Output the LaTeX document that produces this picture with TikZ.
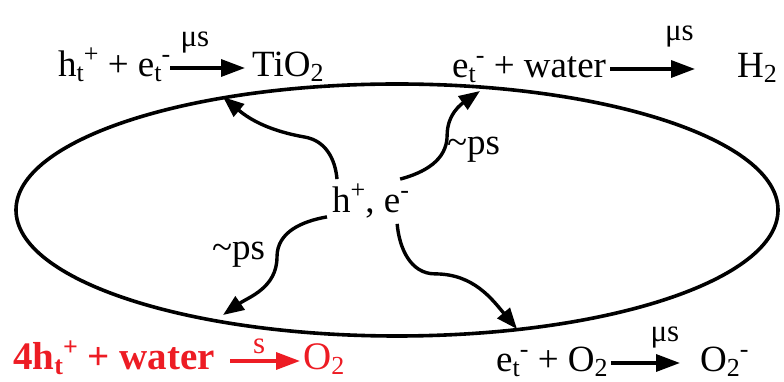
\documentclass[tikz,border=0pt]{standalone}
\usepackage{fontspec}
\setmainfont{Liberation Serif}
\usetikzlibrary{arrows.meta}

\definecolor{rxred}{RGB}{237,28,36}
\newcommand\bigsz{\fontsize{37}{40}\selectfont}
\newcommand\redsz{\fontsize{39}{42}\selectfont}
\newcommand\ratesz{\fontsize{31}{33}\selectfont}
\newcommand\pssz{\fontsize{37}{40}\selectfont}
\newcommand\subx[1]{\raisebox{-5pt}{\fontsize{26}{26}\selectfont #1}}
\newcommand\supx[1]{\raisebox{14pt}{\fontsize{26}{26}\selectfont #1}}

\begin{document}
\begin{tikzpicture}[
  x=1pt, y=1pt,
  font=\bigsz,
  rxn/.style  ={inner sep=0pt, text height=24pt, text depth=6pt, anchor=base west},
  rxnred/.style={rxn, text=rxred},
  rate/.style ={font=\ratesz, inner sep=0pt},
  ps/.style   ={font=\pssz, inner sep=0pt, anchor=base west},
  rxarrow/.style={-{Triangle[length=24pt,width=17pt]}, line width=3.4pt},
  wave/.style ={-{Triangle[length=21pt,width=16pt]}, line width=3.4pt},
  grain/.style={line width=3.6pt},
]
\useasboundingbox (0,0) rectangle (784,382);

% -------- particle --------------------------------------------------------
\draw[grain] (397,172) ellipse [x radius=381, y radius=126];

\coordinate (tl-hit) at (223,285);
\coordinate (tr-hit) at (480,291);
\coordinate (bl-hit) at (223,67);
\coordinate (br-hit) at (517,53);

% -------- carriers --------------------------------------------------------
\node[inner sep=5pt, anchor=base west] (pair) at (327,169) {h\supx{+}, e\supx{-}};

\node[ps] (ps-up) at (447,227) {\textasciitilde ps};
\node[ps] (ps-lo) at (212,122) {\textasciitilde ps};

% -------- reactions -------------------------------------------------------
\node[rxn] (tl-in)  at (58,305)  {h\subx{t}\supx{+} + e\subx{t}\supx{-}};
\node[rxn] (tl-out) at (252,305) {TiO\subx{2}};

\node[rxn] (tr-in)  at (452,304) {e\subx{t}\supx{-} + water};
\node[rxn] (tr-out) at (737,304) {H\subx{2}};

\node[rxnred, font=\redsz\bfseries] (bl-in) at (13,12) {4h\subx{t}\supx{+} + water};
\node[rxnred, font=\redsz] (bl-out) at (303,12) {O\subx{2}};

\node[rxn] (br-in)  at (496,10) {e\subx{t}\supx{-} + O\subx{2}};
\node[rxn] (br-out) at (700,10) {O\subx{2}\supx{-}};

% -------- arrows ----------------------------------------------------------
\draw[rxarrow, shorten >=7pt] (tl-in) -- node[rate, above=13pt, pos=0.3] {μs} (tl-out);
\draw[rxarrow, shorten <=4pt, shorten >=42pt] (tr-in) -- node[rate, above=20pt, pos=0.56] {μs} (tr-out);
\draw[rxarrow, draw=rxred, fill=rxred, shorten <=15pt, shorten >=3pt] (bl-in) -- node[rate, text=rxred, above=5pt, pos=0.5] {s} (bl-out);
\draw[rxarrow, shorten <=3pt, shorten >=20pt] (br-in) -- node[rate, above=13pt, pos=0.62] {μs} (br-out);

% trapping paths
\draw[wave] ([xshift=10pt]pair.north west) to[out=95,in=-10] ++(-32,42) to[out=170,in=-40] (tl-hit);
\draw[wave] ([xshift=-14pt]pair.north east) to[out=15,in=-90] ++(47,44) to[out=90,in=-145] (tr-hit);
\draw[wave] ([yshift=7pt]pair.south west) to[out=190,in=90] ++(-50,-40) to[out=-90,in=35] (bl-hit);
\draw[wave] ([xshift=-17pt]pair.south east) to[out=-85,in=180] ++(38,-50) to[out=0,in=130] (br-hit);

\end{tikzpicture}
\end{document}
